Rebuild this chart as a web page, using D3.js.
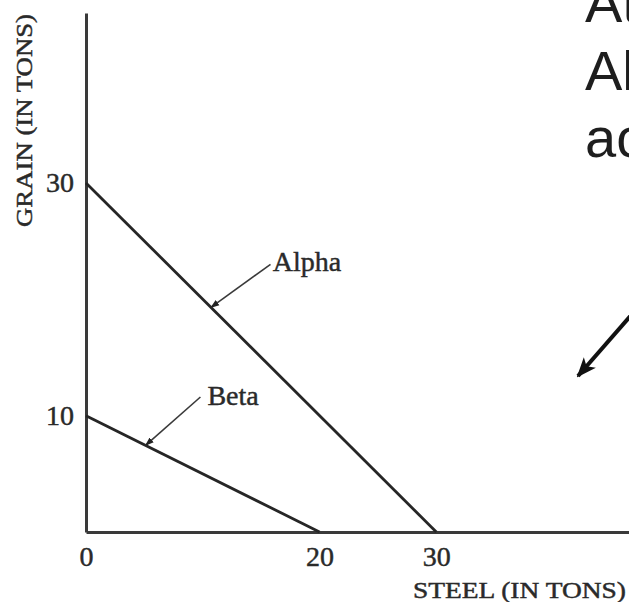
<!DOCTYPE html>
<html>
<head>
<meta charset="utf-8">
<script src="https://cdn.jsdelivr.net/npm/d3@7"></script>
<style>
  html, body { margin: 0; padding: 0; background: #fff; overflow: hidden; }
  svg { display: block; }
  .serif { font-family: "Liberation Serif", "Times New Roman", serif; fill: #2a2a2a; stroke: #2a2a2a; stroke-width: 0.45px; }
</style>
</head>
<body>
<div id="wrapper"></div>
<script>
// data
const steelTicks = [0, 20, 30];
const grainTicks = [10, 30];
const alphaLine = [{steel: 0, grain: 30}, {steel: 30, grain: 0}];
const betaLine = [{steel: 0, grain: 10}, {steel: 20, grain: 0}];
// annotation: label position and arrow tip, in data units
const callouts = [
    {label: 'Alpha', tipSteel: 10.7, tipGrain: 19.3, fromSteel: 15.8, fromGrain: 23, textSteel: 16.0, textGrain: 22.4},
    {label: 'Beta', tipSteel: 5.1, tipGrain: 7.45, fromSteel: 9.8, fromGrain: 11.6, textSteel: 10.4, textGrain: 10.9}
];
const slideLines = ['At', 'Al', 'ac'];

let width = 629, height = 602;

let svg = d3.select('#wrapper').append('svg')
    .attr('width', width)
    .attr('height', height);

svg.append('defs').append('marker')
    .attr('id', 'tip')
    .attr('viewBox', '0 0 10 10')
    .attr('refX', 9).attr('refY', 5)
    .attr('markerWidth', 9).attr('markerHeight', 9)
    .attr('markerUnits', 'userSpaceOnUse')
    .attr('orient', 'auto')
    .append('path').attr('d', 'M0,1.5 L10,5 L0,8.5 Z').attr('fill', '#222');

svg.select('defs').append('marker')
    .attr('id', 'bigtip')
    .attr('viewBox', '0 0 10 10')
    .attr('refX', 9).attr('refY', 5)
    .attr('markerWidth', 20).attr('markerHeight', 20)
    .attr('markerUnits', 'userSpaceOnUse')
    .attr('orient', 'auto')
    .append('path').attr('d', 'M0,1 L10,5 L0,9 L2.5,5 Z').attr('fill', '#111');

//SCALES
let xScale = d3.scaleLinear().domain([0, 46.5]).range([86, 629]);
let yScale = d3.scaleLinear().domain([0, 44.6]).range([532, 13]);

let plot = svg.append('g');

// axes
let xAxis = d3.axisBottom(xScale).tickValues(steelTicks).tickSize(0).tickPadding(14).tickFormat(d3.format('d'));
let yAxis = d3.axisLeft(yScale).tickValues(grainTicks).tickSize(0).tickPadding(12).tickFormat(d3.format('d'));

let gx = plot.append('g').attr('transform', 'translate(0,' + yScale(0) + ')').call(xAxis);
let gy = plot.append('g').attr('transform', 'translate(' + xScale(0) + ',0)').call(yAxis);

[gx, gy].forEach(g => {
    g.select('.domain').attr('stroke', '#3a3a3a').attr('stroke-width', 3);
    g.selectAll('text').attr('class', 'serif').style('font-size', '28px').attr('fill', '#2a2a2a');
});
gx.selectAll('.tick text').attr('dy', '0.7em');
gy.selectAll('.tick text').attr('dy', '0.3em');

// titles
plot.append('text').attr('class', 'serif')
    .attr('x', 413).attr('y', 598)
    .attr('textLength', 213).attr('lengthAdjust', 'spacingAndGlyphs')
    .style('font-size', '23px')
    .text('STEEL (IN TONS)');

plot.append('text').attr('class', 'serif')
    .attr('transform', 'translate(32,227) rotate(-90)')
    .attr('textLength', 213).attr('lengthAdjust', 'spacingAndGlyphs')
    .style('font-size', '24px')
    .text('GRAIN (IN TONS)');

// frontier lines
let lineGen = d3.line().x(d => xScale(d.steel)).y(d => yScale(d.grain));

plot.selectAll('.frontier').data([alphaLine, betaLine]).enter()
    .append('path').classed('frontier', true)
    .attr('d', lineGen)
    .attr('fill', 'none')
    .attr('stroke', '#262626')
    .attr('stroke-width', 2.8);

// callouts
let callG = plot.selectAll('.callout').data(callouts).enter().append('g').classed('callout', true);
callG.append('line')
    .attr('x1', d => xScale(d.fromSteel)).attr('y1', d => yScale(d.fromGrain))
    .attr('x2', d => xScale(d.tipSteel)).attr('y2', d => yScale(d.tipGrain))
    .attr('stroke', '#3a3a3a').attr('stroke-width', 1.6)
    .attr('marker-end', 'url(#tip)');
callG.append('text').attr('class', 'serif')
    .attr('x', d => xScale(d.textSteel)).attr('y', d => yScale(d.textGrain))
    .style('font-size', '28px')
    .text(d => d.label);

// slide text cut off at right edge
svg.selectAll('.slide').data(slideLines).enter()
    .append('text').classed('slide', true)
    .attr('x', 585).attr('y', (d, i) => 22 + i * 67.5)
    .style('font-family', '"Liberation Sans", Arial, sans-serif')
    .style('font-size', '56px')
    .attr('fill', '#1e1e1e')
    .text(d => d);

svg.append('line')
    .attr('x1', 640).attr('y1', 305)
    .attr('x2', 578).attr('y2', 376)
    .attr('stroke', '#111').attr('stroke-width', 4)
    .attr('marker-end', 'url(#bigtip)');
</script>
</body>
</html>
